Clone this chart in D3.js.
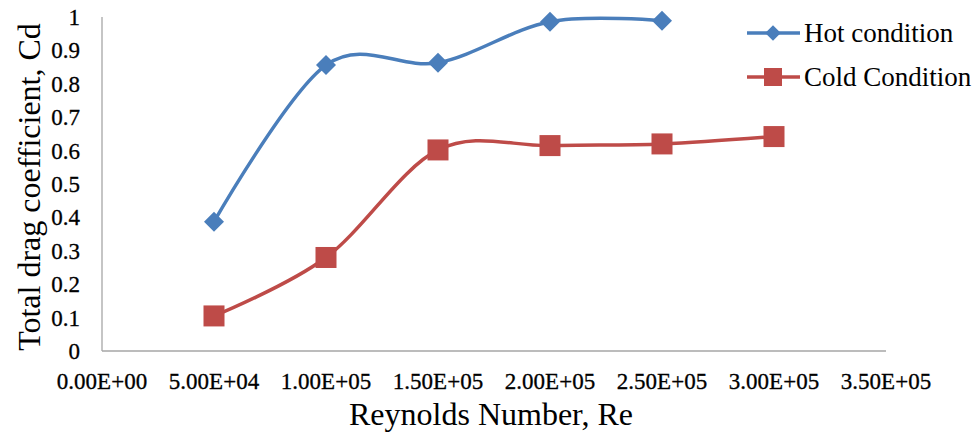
<!DOCTYPE html>
<html><head><meta charset="utf-8">
<script src="https://cdn.jsdelivr.net/npm/d3@7"></script>
<style>body{margin:0;background:#fff}</style>
</head><body>
<svg id="c" width="976" height="437"></svg>
<script>
const hotRe = [50000, 100000, 150000, 200000, 250000];
const hotCd = [0.387, 0.856, 0.863, 0.986, 0.989];
const coldRe = [50000, 100000, 150000, 200000, 250000, 300000];
const coldCd = [0.105, 0.28, 0.602, 0.615, 0.62, 0.642];
const xTicks = [0, 50000, 100000, 150000, 200000, 250000, 300000, 350000];
const xTickLabels = ["0.00E+00","5.00E+04","1.00E+05","1.50E+05","2.00E+05","2.50E+05","3.00E+05","3.50E+05"];
const yTicks = [0,0.1,0.2,0.3,0.4,0.5,0.6,0.7,0.8,0.9,1];
const seriesNames = ["Hot condition", "Cold Condition"];

const svg = d3.select("#c");
const font = "Liberation Serif";
const x = d3.scaleLinear().domain([0, 350000]).range([102, 886]);
const y = d3.scaleLinear().domain([0, 1]).range([351, 17]);

svg.append("line").attr("x1",102).attr("x2",102).attr("y1",y(1)).attr("y2",y(0)).attr("stroke","#a6a6a6").attr("stroke-width",1.3);
svg.append("line").attr("x1",102).attr("x2",886).attr("y1",y(0)).attr("y2",y(0)).attr("stroke","#a6a6a6").attr("stroke-width",1.3);

svg.selectAll(".yt").data(yTicks).enter().append("text")
  .attr("x",80).attr("y",d=>y(d)).attr("dy","0.35em").attr("text-anchor","end")
  .style("font-family",font).style("font-size","23px").attr("fill","#000")
  .attr("stroke","#000").attr("stroke-width",0.3)
  .text(d=>d===0?"0":d===1?"1":d.toFixed(1));

svg.selectAll(".xt").data(xTicks).enter().append("text")
  .attr("x",d=>x(d)).attr("y",381).attr("dy","0.35em").attr("text-anchor","middle")
  .style("font-family",font).style("font-size","23px").attr("fill","#000")
  .attr("stroke","#000").attr("stroke-width",0.3)
  .text((d,i)=>xTickLabels[i]);

svg.append("text").attr("x",491).attr("y",414).attr("dy","0.35em").attr("text-anchor","middle")
  .style("font-family",font).style("font-size","32px").text("Reynolds Number, Re");
svg.append("text").attr("transform","translate(29,187) rotate(-90)").attr("dy","0.35em").attr("text-anchor","middle")
  .style("font-family",font).style("font-size","32px").text("Total drag coefficient, Cd");

const line = d3.line().x(d=>x(d[0])).y(d=>y(d[1])).curve(d3.curveCardinal.tension(0));
const hot = hotRe.map((r,i)=>[r,hotCd[i]]);
const cold = coldRe.map((r,i)=>[r,coldCd[i]]);
const blue="#4a7ebb", red="#be4b48";

svg.append("path").datum(hot).attr("d",line).attr("fill","none").attr("stroke",blue).attr("stroke-width",3.5);
svg.append("path").datum(cold).attr("d",line).attr("fill","none").attr("stroke",red).attr("stroke-width",3.5);

const diamond = d3.symbol().type(d3.symbolSquare).size(200);
svg.selectAll(".hp").data(hot).enter().append("path").attr("d",diamond)
  .attr("transform",d=>`translate(${x(d[0])},${y(d[1])}) rotate(45)`).attr("fill",blue);
svg.selectAll(".cp").data(cold).enter().append("rect")
  .attr("x",d=>x(d[0])-10.5).attr("y",d=>y(d[1])-10.5).attr("width",21).attr("height",21).attr("fill",red);

const lg = [[seriesNames[0],blue,33,"d"],[seriesNames[1],red,77,"s"]];
lg.forEach(([name,col,ly,m])=>{
  svg.append("line").attr("x1",747).attr("x2",800).attr("y1",ly).attr("y2",ly).attr("stroke",col).attr("stroke-width",3.5);
  if(m==="d") svg.append("path").attr("d",d3.symbol().type(d3.symbolSquare).size(120)()).attr("transform",`translate(773,${ly}) rotate(45)`).attr("fill",col);
  else svg.append("rect").attr("x",764).attr("y",ly-9).attr("width",18).attr("height",18).attr("fill",col);
  svg.append("text").attr("x",804).attr("y",ly).attr("dy","0.35em").style("font-family",font).style("font-size","27px").text(name);
});
</script>
</body></html>
